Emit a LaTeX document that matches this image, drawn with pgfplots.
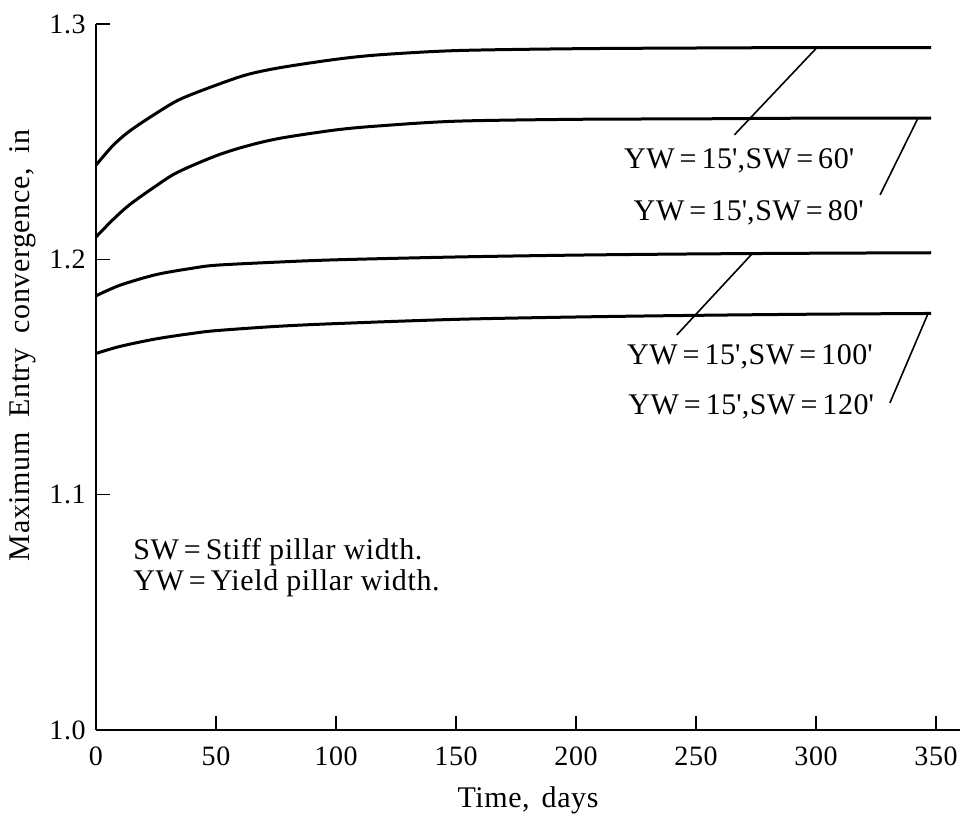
\documentclass[border=0pt]{standalone}
\usepackage{fontspec}
\setmainfont{Liberation Serif}[LetterSpace=2]
\usepackage{pgfplots}
\pgfplotsset{compat=1.18}

\newcommand{\lab}[1]{YW\,=\,15\textquotesingle,SW\,=\,#1\textquotesingle}

\begin{document}
\fontsize{15}{15.5}\selectfont
\begin{tikzpicture}
\begin{axis}[
    width=432pt, height=353pt,
    scale only axis,
    xmin=0, xmax=360,
    ymin=1.0, ymax=1.3,
    axis x line*=bottom,
    axis y line*=left,
    axis line style={line width=1pt,-},
    xtick={0,50,...,350},
    ytick={1.0,1.1,1.2,1.3},
    yticklabel style={/pgf/number format/fixed,/pgf/number format/fixed zerofill,/pgf/number format/precision=1},
    xticklabel style={yshift=-3pt},
    /pgf/number format/assume math mode=true,
    tick style={line width=0.8pt,black},
    major tick length=7pt,
    tick align=inside,
    xlabel={Time,\hspace{0.4em}days},
    ylabel={Maximum\hspace{0.5em}Entry\hspace{0.5em}convergence,\hspace{0.5em}in},
    xlabel style={at={(axis description cs:0.5,-0.11)}, anchor=base},
    ylabel style={at={(axis description cs:-0.0845,0.545)}, anchor=center},
    every tick label/.append style={font=\fontsize{14}{15}\selectfont},
    label style={font=\fontsize{15}{16}\selectfont},
    clip=false,
]
\addplot[line width=1.5pt, smooth] coordinates {
  (0,1.240) (7,1.2483) (14,1.2545) (25,1.2620) (35,1.2680) (50,1.2740) (63,1.2785)
  (77,1.2815) (100,1.2850) (118,1.2869) (150,1.2887) (200,1.2895) (250,1.2898)
  (300,1.290) (348,1.290)
};
\addplot[line width=1.5pt, smooth] coordinates {
  (0,1.2095) (7,1.2168) (14,1.2232) (25,1.2312) (34,1.2370) (50,1.2440) (63,1.2482)
  (77,1.2515) (100,1.2550) (118,1.2567) (150,1.2587) (200,1.2595) (250,1.2597)
  (300,1.260) (348,1.260)
};
\addplot[line width=1.5pt, smooth] coordinates {
  (0,1.1845) (10,1.189) (25,1.1935) (40,1.1962) (50,1.1975) (75,1.1988) (100,1.1998)
  (150,1.201) (200,1.2018) (250,1.2023) (300,1.2026) (348,1.2028)
};
\addplot[line width=1.5pt, smooth] coordinates {
  (0,1.160) (10,1.163) (25,1.1662) (40,1.1685) (50,1.1697) (75,1.1715) (100,1.1727)
  (150,1.1745) (200,1.1755) (250,1.1762) (300,1.1767) (348,1.177)
};
% leader lines
\addplot[line width=0.8pt] coordinates {(266,1.2529) (300.4,1.290)};
\addplot[line width=0.8pt] coordinates {(326.7,1.2274) (342.5,1.260)};
\addplot[line width=0.8pt] coordinates {(242,1.1679) (273.7,1.2027)};
\addplot[line width=0.8pt] coordinates {(330.8,1.139) (346.7,1.177)};
% labels
\node at (axis cs:268,1.242) {\lab{60}};
\node at (axis cs:272,1.2197) {\lab{80}};
\node at (axis cs:272.5,1.1585) {\lab{100}};
\node at (axis cs:273,1.1373) {\lab{120}};
\node[anchor=west,align=left,inner sep=0pt] at (axis cs:15.4,1.0688)
  {SW\,=\,Stiff pillar width.\\YW\,=\,Yield pillar width.};
\coordinate (bl) at (rel axis cs:0,0);
\coordinate (tr) at (rel axis cs:1,1);
\end{axis}
\pgfresetboundingbox
\path ([xshift=-48pt,yshift=-42.5pt]bl) rectangle ([xshift=1pt,yshift=12pt]tr);
\end{tikzpicture}
\end{document}
